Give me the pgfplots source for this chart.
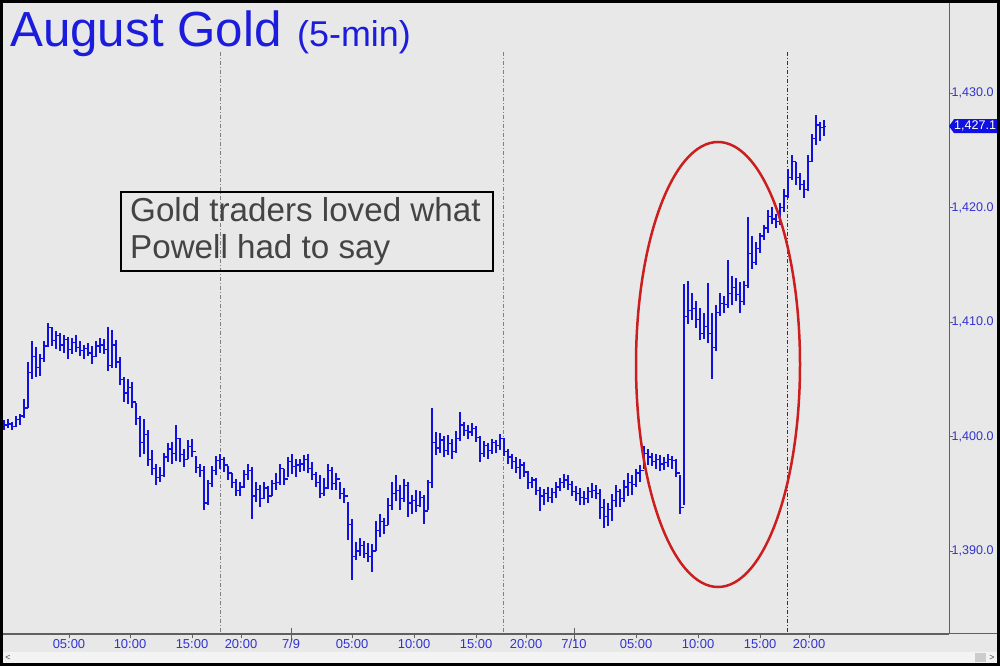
\documentclass[border=0pt]{standalone}
\usepackage{pgfplots}
\pgfplotsset{compat=1.18}
\usepackage{pgfplotstable}
\usepackage{fontspec}
\setmainfont{Liberation Sans}
\definecolor{bg}{HTML}{E8E8E8}
\definecolor{scroll}{HTML}{F3F3F3}
\definecolor{barblue}{RGB}{16,16,224}
\definecolor{tickblue}{RGB}{50,50,205}
\definecolor{titleblue}{RGB}{28,28,220}
\definecolor{axisgray}{HTML}{606060}
\definecolor{ellred}{RGB}{204,30,30}
\definecolor{boxtext}{HTML}{444444}
\pgfdeclareplotmark{rtick}{\pgfpathmoveto{\pgfpointorigin}\pgfpathlineto{\pgfpoint{1.7bp}{0pt}}\pgfusepathqstroke}
\pgfdeclareplotmark{ltick}{\pgfpathmoveto{\pgfpointorigin}\pgfpathlineto{\pgfpoint{-1.7bp}{0pt}}\pgfusepathqstroke}
\pgfplotstableread{
x h l c
4 1401.4 1400.6 1401.0
8 1401.5 1400.7 1401.1
12 1401.3 1400.6 1400.9
16 1401.8 1400.8 1401.5
20 1402.0 1401.0 1401.8
24 1403.3 1401.6 1402.5
28 1406.5 1402.5 1405.6
32 1408.3 1405.0 1407.0
36 1407.8 1405.2 1406.0
40 1407.2 1405.3 1406.8
44 1408.3 1406.5 1407.9
48 1409.9 1407.8 1409.5
52 1409.6 1407.9 1408.4
56 1409.2 1407.6 1408.8
60 1409.0 1407.5 1408.0
64 1408.9 1407.3 1408.5
68 1408.7 1406.8 1407.6
72 1408.6 1407.2 1408.2
76 1408.9 1407.4 1407.8
80 1408.3 1407.0 1407.5
84 1408.0 1406.8 1407.7
88 1408.2 1407.0 1407.3
92 1407.9 1406.3 1407.0
96 1408.3 1406.9 1407.9
100 1408.6 1407.3 1408.0
104 1408.5 1407.2 1407.6
108 1409.6 1405.7 1406.2
112 1409.3 1406.0 1408.0
116 1408.4 1406.0 1406.5
120 1406.9 1404.5 1405.0
124 1405.2 1403.0 1403.8
128 1405.0 1402.8 1404.3
132 1404.8 1402.5 1403.0
136 1402.9 1401.0 1401.6
140 1401.8 1398.2 1399.5
144 1401.5 1398.5 1400.2
148 1400.6 1397.4 1398.0
152 1398.8 1396.6 1397.2
156 1397.6 1395.8 1396.4
160 1397.3 1396.0 1396.6
164 1398.6 1396.5 1398.2
168 1399.4 1397.8 1398.9
172 1399.5 1397.6 1398.5
176 1401.0 1397.9 1399.8
180 1399.9 1397.8 1398.4
184 1398.9 1397.3 1398.0
188 1399.7 1398.0 1399.1
192 1399.8 1398.2 1398.7
196 1398.3 1396.8 1397.3
200 1397.6 1396.5 1397.0
204 1397.4 1393.6 1394.2
208 1396.2 1394.0 1395.9
212 1397.4 1395.6 1397.0
216 1398.3 1396.6 1397.9
220 1398.5 1397.2 1398.0
224 1398.2 1396.9 1397.5
228 1397.4 1396.2 1396.8
232 1396.8 1395.5 1396.0
236 1396.3 1394.8 1395.3
240 1396.0 1394.8 1395.6
244 1397.1 1395.5 1396.7
248 1397.6 1396.2 1397.0
252 1397.3 1392.8 1394.8
256 1396.0 1394.3 1395.4
260 1395.8 1393.8 1394.6
264 1396.0 1394.5 1395.5
268 1395.7 1394.2 1394.8
272 1396.2 1394.8 1395.9
276 1396.8 1395.3 1396.0
280 1397.6 1395.8 1397.2
284 1397.2 1395.8 1396.3
288 1398.2 1396.5 1397.8
292 1398.5 1396.7 1397.4
296 1398.0 1396.5 1397.5
300 1398.0 1396.9 1397.6
304 1398.4 1397.0 1398.0
308 1398.5 1396.8 1397.2
312 1397.8 1396.2 1396.7
316 1396.9 1395.6 1396.0
320 1396.6 1394.6 1395.0
324 1396.4 1394.8 1395.5
328 1397.6 1395.4 1397.0
332 1397.3 1395.3 1395.9
336 1396.8 1395.3 1396.3
340 1396.0 1394.5 1395.0
344 1395.5 1394.2 1394.8
348 1394.3 1391.0 1392.3
352 1392.8 1387.5 1389.5
356 1390.8 1389.2 1390.0
360 1391.1 1389.6 1390.5
364 1390.9 1389.4 1389.8
368 1390.7 1389.0 1389.5
372 1390.6 1388.2 1390.0
376 1392.6 1390.0 1391.8
380 1393.2 1391.2 1392.6
384 1392.9 1391.5 1392.2
388 1394.6 1392.3 1394.0
392 1396.0 1393.6 1395.0
396 1396.6 1394.4 1395.3
400 1395.8 1393.6 1394.6
404 1396.3 1394.3 1395.7
408 1396.0 1393.0 1394.2
412 1394.9 1393.2 1394.4
416 1395.3 1393.4 1394.0
420 1395.2 1393.8 1394.7
424 1394.9 1392.4 1393.5
428 1396.2 1393.6 1396.0
432 1402.5 1395.5 1399.5
436 1400.4 1398.4 1399.0
440 1400.3 1398.6 1399.7
444 1400.0 1398.2 1398.8
448 1400.1 1398.4 1399.4
452 1399.8 1398.0 1398.7
456 1400.5 1398.6 1399.8
460 1402.1 1399.6 1401.0
464 1401.3 1400.0 1400.5
468 1401.0 1399.8 1400.4
472 1401.2 1400.0 1400.7
476 1400.9 1399.5 1399.9
480 1400.0 1397.8 1398.5
484 1399.6 1398.2 1399.2
488 1399.4 1398.0 1398.8
492 1399.8 1398.5 1399.5
496 1399.7 1398.6 1399.2
500 1400.2 1398.8 1399.8
504 1399.9 1398.3 1398.7
508 1398.9 1397.6 1398.2
512 1398.5 1397.2 1397.8
516 1398.2 1396.8 1397.3
520 1398.0 1396.3 1397.5
524 1397.8 1396.5 1396.9
528 1397.0 1395.4 1396.0
532 1396.5 1395.5 1396.2
536 1396.4 1394.9 1395.3
540 1395.6 1393.5 1394.8
544 1395.4 1394.0 1395.0
548 1395.6 1394.3 1394.7
552 1395.5 1394.2 1395.1
556 1396.0 1394.6 1395.6
560 1396.4 1395.2 1396.0
564 1396.7 1395.5 1396.2
568 1396.6 1395.3 1395.8
572 1396.1 1394.8 1395.2
576 1395.7 1394.4 1395.0
580 1395.5 1394.0 1394.7
584 1395.2 1394.0 1394.6
588 1395.6 1394.2 1395.2
592 1395.9 1394.6 1395.3
596 1395.8 1394.5 1395.0
600 1395.4 1392.8 1393.8
604 1394.5 1392.0 1393.0
608 1394.2 1392.2 1393.6
612 1395.0 1392.6 1394.4
616 1395.8 1393.8 1395.2
620 1395.4 1393.8 1394.6
624 1396.2 1394.3 1395.6
628 1396.8 1394.8 1396.0
632 1396.6 1394.9 1395.8
636 1397.2 1395.6 1396.8
640 1397.5 1396.0 1397.0
644 1399.2 1397.2 1398.5
648 1398.9 1397.5 1398.2
652 1398.6 1397.4 1397.8
656 1398.5 1397.2 1398.0
660 1398.4 1397.0 1397.6
664 1398.2 1397.1 1397.7
668 1398.5 1397.3 1398.0
672 1398.3 1397.2 1397.9
676 1398.0 1396.5 1396.8
680 1396.6 1393.2 1393.8
684 1413.3 1394.0 1410.5
688 1413.6 1409.8 1411.0
692 1412.5 1410.2 1411.2
696 1411.8 1409.5 1410.2
700 1411.2 1408.4 1409.0
704 1410.8 1408.5 1409.6
708 1413.4 1408.2 1409.0
712 1410.8 1405.0 1407.8
716 1411.5 1407.5 1410.8
720 1412.5 1410.5 1411.6
724 1412.3 1410.8 1411.5
728 1415.4 1411.2 1412.5
732 1414.0 1411.5 1413.0
736 1413.8 1411.8 1412.4
740 1413.5 1410.8 1411.8
744 1413.6 1411.5 1413.2
748 1419.2 1413.0 1416.0
752 1417.5 1414.6 1415.2
756 1417.0 1415.0 1416.4
760 1417.8 1416.0 1417.5
764 1418.5 1417.2 1418.2
768 1419.8 1417.8 1419.2
772 1420.0 1418.6 1419.0
776 1419.4 1418.2 1418.8
780 1420.4 1418.5 1420.0
784 1421.6 1419.6 1421.0
788 1423.4 1420.8 1422.6
792 1424.6 1422.4 1424.0
796 1424.0 1422.0 1422.6
800 1423.0 1421.5 1422.0
804 1422.4 1420.8 1421.6
808 1424.6 1421.4 1424.0
812 1426.4 1424.0 1426.0
816 1428.1 1425.5 1427.2
820 1427.5 1425.8 1427.0
824 1427.6 1426.2 1427.1
}\bardata
\begin{document}
\begin{tikzpicture}
\useasboundingbox (0,0) rectangle (1000bp,666bp);
\fill[bg] (0,0) rectangle (1000bp,666bp);
\fill[scroll] (3bp,3bp) rectangle (997bp,14bp);
\fill[black!20] (975bp,4bp) rectangle (986bp,13bp);
\node[font=\fontsize{9}{10}\selectfont, text=black!70, inner sep=0] at (8bp,8.5bp) {<};
\node[font=\fontsize{9}{10}\selectfont, text=black!70, inner sep=0] at (992bp,8.5bp) {>};
% session dividers
\draw[axisgray!80, line width=0.8bp, dash pattern=on 4bp off 2bp on 1bp off 2bp] (220bp,614bp) -- (220bp,32bp);
\draw[axisgray!80, line width=0.8bp, dash pattern=on 4bp off 2bp on 1bp off 2bp] (503bp,614bp) -- (503bp,32bp);
\draw[black!80, line width=0.8bp, dash pattern=on 4bp off 2bp on 1bp off 2bp] (787bp,614bp) -- (787bp,32bp);
\draw[axisgray, line width=1bp] (3bp,32bp) -- (997bp,32bp);
\draw[axisgray, line width=0.8bp] (291bp,38bp) -- (291bp,25bp);
\draw[axisgray, line width=0.8bp] (574bp,38bp) -- (574bp,25bp);
\begin{axis}[
  at={(3bp,32bp)}, anchor=south west,
  scale only axis, width=946bp, height=631bp,
  xmin=3, xmax=949, ymin=1382.75, ymax=1437.86,
  axis x line*=bottom, axis y line*=right,
  axis line style={draw=axisgray, line width=1bp, -},
  tick align=outside, major tick length=4bp,
  tick style={axisgray, line width=0.8bp},
  xtick={69,130,192,241,291,352,414,476,526,574,636,698,760,809},
  xticklabels={05:00,10:00,15:00,20:00,7/9,05:00,10:00,15:00,20:00,7/10,05:00,10:00,15:00,20:00},
  ytick={1390,1400,1410,1420,1430},
  xticklabel style={font=\fontsize{13}{15}\selectfont, text=tickblue, inner sep=1bp, anchor=north},
  yticklabel style={font=\fontsize{12.6}{15}\selectfont, text=tickblue, inner sep=0pt, anchor=west, xshift=-1.5bp,
    /pgf/number format/.cd, fixed, fixed zerofill, precision=1, 1000 sep={,}, assume math mode=true},
]
\addplot[only marks, mark=rtick, mark options={barblue, line width=1.3bp},
  error bars/.cd, y dir=both, y explicit, error mark=none,
  error bar style={barblue, line width=1.6bp}]
  table[x=x, y=c, y error plus expr=\thisrow{h}-\thisrow{c}, y error minus expr=\thisrow{c}-\thisrow{l}] {\bardata};
\addplot[only marks, mark=ltick, mark options={barblue, line width=1.3bp}, restrict x to domain=0:825]
  table[x expr=\thisrow{x}+4, y=c] {\bardata};
\end{axis}
% annotation
\draw[black, line width=2bp] (121bp,474bp) rectangle (493bp,395bp);
\node[anchor=base west, inner sep=0, text=boxtext, font=\fontsize{33.3}{37}\selectfont] at (130bp,444bp) {Gold traders loved what};
\node[anchor=base west, inner sep=0, text=boxtext, font=\fontsize{33.3}{37}\selectfont] at (130bp,407bp) {Powell had to say};
\draw[ellred, line width=2.5bp] (718bp,301.5bp) ellipse [x radius=82bp, y radius=222.5bp];
% last price tag
\fill[barblue] (949bp,539.8bp) -- ++(5bp,7bp) -- ++(44bp,0) -- ++(0,-14bp) -- ++(-44bp,0) -- cycle;
\node[anchor=west, inner sep=0, text=white, font=\fontsize{12.6}{15}\selectfont] at (954bp,539.8bp) {1,427.1};
\node[anchor=base west, inner sep=0, text=titleblue, font=\fontsize{49.5}{54}\selectfont] at (10bp,619bp) {August Gold};
\node[anchor=base west, inner sep=0, text=titleblue, font=\fontsize{36}{40}\selectfont] at (297bp,619bp) {(5-min)};
\draw[black, line width=3bp] (1.5bp,1.5bp) rectangle (998.5bp,664.5bp);
\end{tikzpicture}
\end{document}
